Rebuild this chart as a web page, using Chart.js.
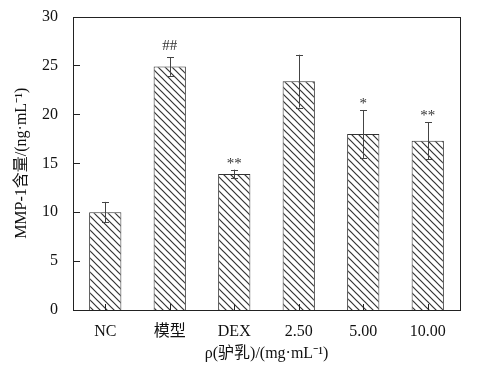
<!DOCTYPE html>
<html>
<head>
<meta charset="utf-8">
<script src="https://cdn.jsdelivr.net/npm/chart.js@4/dist/chart.umd.min.js"></script>
<style>
html,body{margin:0;padding:0;background:#fff;}
#wrap{width:479px;height:376px;position:relative;}
</style>
</head>
<body>
<div id="wrap"><canvas id="c" width="479" height="376"></canvas></div>
<script>
const categories = ['NC', '模型', 'DEX', '2.50', '5.00', '10.00'];
const values = [10.0, 24.9, 13.9, 23.4, 18.0, 17.3];
const errors = [1.05, 0.95, 0.45, 2.7, 2.45, 1.9];
const marks = ['', '##', '**', '', '*', '**'];
const yTicks = [0, 5, 10, 15, 20, 25, 30];

const FONT = '"Liberation Serif", "Times New Roman", "Noto Sans CJK SC", serif';
const INK = '#222';

function hatch() {
  const s = 7;
  const c = document.createElement('canvas');
  c.width = s; c.height = s;
  const g = c.getContext('2d');
  g.fillStyle = '#fff';
  g.fillRect(0, 0, s, s);
  g.strokeStyle = '#333';
  g.lineWidth = 1.2;
  g.beginPath();
  g.moveTo(-1, -1); g.lineTo(s + 1, s + 1);
  g.moveTo(-1, s - 1); g.lineTo(1, s + 1);
  g.moveTo(s - 1, -1); g.lineTo(s + 1, 1);
  g.stroke();
  return g.createPattern(c, 'repeat');
}

const framePlugin = {
  id: 'frame',
  afterDatasetsDraw(chart) {
    const ctx = chart.ctx, a = chart.chartArea;
    const ys = chart.scales.y, xs = chart.scales.x;
    const meta = chart.getDatasetMeta(0);
    ctx.save();
    // error bars
    ctx.strokeStyle = '#444';
    ctx.lineWidth = 1;
    meta.data.forEach((bar, i) => {
      const x = Math.round(bar.x) + 0.5;
      const yt = ys.getPixelForValue(values[i] + errors[i]);
      const yb = ys.getPixelForValue(values[i] - errors[i]);
      ctx.beginPath();
      ctx.moveTo(x, yt); ctx.lineTo(x, yb);
      ctx.moveTo(x - 3.5, Math.round(yt) + 0.5); ctx.lineTo(x + 3.5, Math.round(yt) + 0.5);
      ctx.moveTo(x - 3.5, Math.round(yb) + 0.5); ctx.lineTo(x + 3.5, Math.round(yb) + 0.5);
      ctx.stroke();
      if (marks[i]) {
        ctx.fillStyle = '#333';
        ctx.font = '15px ' + FONT;
        ctx.textAlign = 'center';
        ctx.textBaseline = 'middle';
        const off = marks[i].startsWith('*') ? 6 : 11;
        ctx.fillText(marks[i], bar.x, yt - off);
      }
    });
    // frame
    ctx.strokeStyle = INK;
    ctx.lineWidth = 1;
    ctx.strokeRect(Math.round(a.left) + 0.5, Math.round(a.top) + 0.5,
                   Math.round(a.right - a.left), Math.round(a.bottom - a.top));
    // inward ticks
    ctx.beginPath();
    yTicks.forEach(v => {
      const y = Math.round(ys.getPixelForValue(v)) + 0.5;
      ctx.moveTo(a.left, y); ctx.lineTo(a.left + 7, y);
    });
    categories.forEach((c, i) => {
      const x = Math.round(xs.getPixelForValue(i)) + 0.5;
      ctx.moveTo(x, a.bottom); ctx.lineTo(x, a.bottom - 6);
    });
    ctx.stroke();
    ctx.restore();
  }
};

new Chart(document.getElementById('c'), {
  type: 'bar',
  data: {
    labels: categories,
    datasets: [{
      data: values,
      backgroundColor: hatch(),
      borderColor: '#333',
      borderWidth: 1,
      categoryPercentage: 1.0,
      barPercentage: 0.5
    }]
  },
  options: {
    responsive: false,
    animation: false,
    devicePixelRatio: 1,
    layout: { padding: { top: 10, right: 19, left: 0, bottom: 13 } },
    plugins: { legend: { display: false }, tooltip: { enabled: false } },
    scales: {
      x: {
        grid: { display: false },
        border: { display: false },
        ticks: { color: '#111', font: { family: FONT, size: 16 }, padding: 4 },
        title: {
          display: true,
          text: 'ρ(驴乳)/(mg·mL⁻¹)',
          color: '#111',
          font: { family: FONT, size: 16 },
          padding: { top: 0, bottom: 0 }
        },
        afterFit(s) { s.height = 53; }
      },
      y: {
        min: 0, max: 30,
        grid: { display: false },
        border: { display: false },
        ticks: { stepSize: 5, color: '#111', font: { family: FONT, size: 16 }, padding: 7 },
        title: {
          display: true,
          text: 'MMP-1含量/(ng·mL⁻¹)',
          color: '#111',
          font: { family: FONT, size: 16 },
          padding: { top: 12, bottom: 0 }
        },
        afterFit(s) { s.width = 73; }
      }
    }
  },
  plugins: [framePlugin]
});
</script>
</body>
</html>
